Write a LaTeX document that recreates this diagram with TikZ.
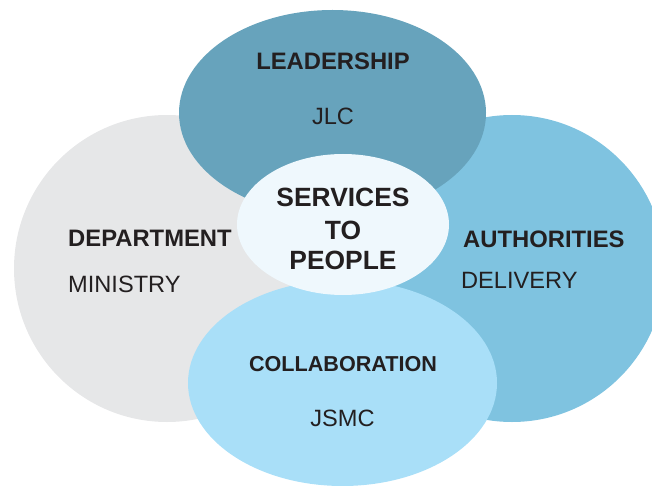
\documentclass[tikz,border=0pt]{standalone}
\usepackage{fontspec}
\setmainfont{Liberation Sans}
\definecolor{ink}{HTML}{231F20}
\definecolor{deptgrey}{HTML}{E6E7E8}
\definecolor{leadteal}{HTML}{67A3BC}
\definecolor{authblue}{HTML}{7FC3E0}
\definecolor{collabblue}{HTML}{A9DFF8}
\definecolor{corepale}{HTML}{EFF8FD}
\begin{document}
\begin{tikzpicture}[x=1pt,y=-1pt,
  head/.style={text=ink,font=\fontsize{23.8}{28}\selectfont\bfseries,inner sep=0pt},
  sub/.style={text=ink,font=\fontsize{23.6}{28}\selectfont,inner sep=0pt},
  core/.style={text=ink,font=\fontsize{26.4}{31}\selectfont\bfseries,align=center,inner sep=0pt}]
\useasboundingbox (0,0) rectangle (652,486);
\begin{scope}
\clip (0,0) rectangle (652,486);
% four overlapping areas, then the core on top
\fill[deptgrey]   (167,268.5) ellipse [x radius=153, y radius=153.5];
\fill[authblue]   (512,268.5) ellipse [x radius=153, y radius=153.5];
\fill[leadteal]   (332.5,113) ellipse [x radius=153.5, y radius=103];
\fill[collabblue] (342.5,383) ellipse [x radius=154.5, y radius=103];
\fill[corepale]   (343,224.5) ellipse [x radius=106, y radius=70.5];
\end{scope}
% labels
\node[head,anchor=base] (lead) at (333,70) {LEADERSHIP};
\node[sub,anchor=base]  (jlc)  at (333,125) {JLC};
\node[head,anchor=base west] (dept) at (68,246) {DEPARTMENT};
\node[sub,anchor=base west]  (min)  at (68,292) {MINISTRY};
\node[head,anchor=base west] (auth) at (463,247) {AUTHORITIES};
\node[sub,anchor=base west]  (del)  at (461,288) {DELIVERY};
\node[head,font=\fontsize{21.6}{26}\selectfont\bfseries,anchor=base] (collab) at (343,371) {COLLABORATION};
\node[sub,anchor=base] (jsmc) at (342.5,426) {JSMC};
\node[core,anchor=base] (serv) at (343,207) {SERVICES};
\node[core,anchor=base] (to)   at (343,239) {TO};
\node[core,anchor=base] (ppl)  at (343,269) {PEOPLE};
\end{tikzpicture}
\end{document}
